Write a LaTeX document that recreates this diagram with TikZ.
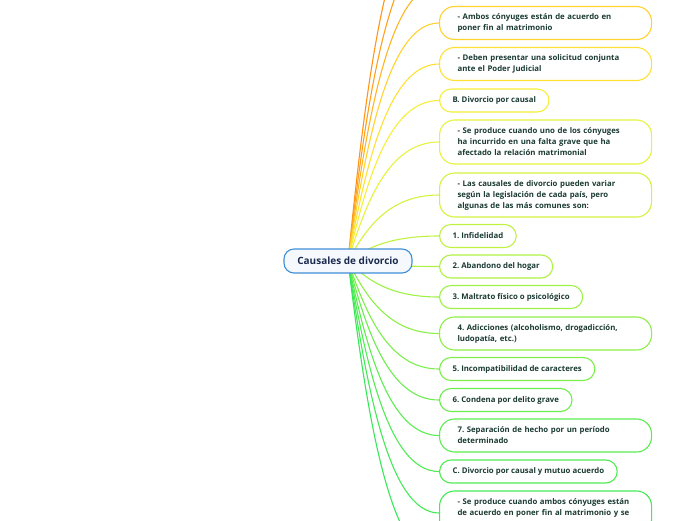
\documentclass[tikz,border=0pt]{standalone}
\usepackage{fontspec}
\setmainfont{Open Sans}
\usetikzlibrary{calc,backgrounds}
\definecolor{txt}{HTML}{1B3B33}
\definecolor{roottxt}{HTML}{1B2A4E}
\definecolor{rootdraw}{HTML}{3F8FD6}
\definecolor{rootfill}{HTML}{F5F9FD}
\definecolor{cT1}{HTML}{FF9418}
\definecolor{cT2}{HTML}{FFA01C}
\definecolor{cT3}{HTML}{FFB424}
\definecolor{cA1}{HTML}{FFD22E}
\definecolor{cA2}{HTML}{FFE034}
\definecolor{cB}{HTML}{F7EE3A}
\definecolor{cB1}{HTML}{E6F33C}
\definecolor{cB2}{HTML}{D3F43E}
\definecolor{c1}{HTML}{C0F240}
\definecolor{c2}{HTML}{AEF243}
\definecolor{c3}{HTML}{9EF145}
\definecolor{c4}{HTML}{8DF047}
\definecolor{c5}{HTML}{7CEF4A}
\definecolor{c6}{HTML}{6BEE4D}
\definecolor{c7}{HTML}{5CED50}
\definecolor{cC}{HTML}{4FEC52}
\definecolor{cC1}{HTML}{44EA55}
\definecolor{cBot}{HTML}{36E858}
\tikzset{
  leaf/.style={draw, fill=white, rounded corners=11.5, minimum height=23,
    inner xsep=13, inner ysep=0, anchor=west, text=txt, line width=1.1,
    font=\bfseries\frenchspacing\fontsize{7.8}{11}\selectfont},
  multi/.style={leaf, rounded corners=15, text width=176, inner xsep=18,
    minimum width=212, align=left},
  conn/.style={line width=1.1, to path={let \p1=(\tikztostart), \p2=(\tikztotarget) in
    .. controls (\x1+0.2*\x2-0.2*\x1, 0.5*\y1+0.5*\y2) and (\x1+0.45*\x2-0.45*\x1, \y2) .. (\tikztotarget)}}
}
\begin{document}
\begin{tikzpicture}[x=1pt,y=-1pt]
\useasboundingbox (0,0) rectangle (696,520);
\clip (0,0) rectangle (696,520);
\node[draw=rootdraw, fill=rootfill, line width=1.1, rounded corners=10,
  minimum width=128, minimum height=24, inner sep=0, text=roottxt,
  font=\bfseries\fontsize{10}{12}\selectfont] (root) at (348,261) {Causales de divorcio};
\coordinate (t1) at (439,-100);
\coordinate (t2) at (439,-55);
\coordinate (t3) at (439,-15);
\coordinate (bot) at (439,560);
\node[multi, draw=cA1, minimum height=33] (a1) at (439,23) {- Ambos cónyuges están de acuerdo en\\poner fin al matrimonio};
\node[multi, draw=cA2, minimum height=33] (a2) at (439,64) {- Deben presentar una solicitud conjunta\\ante el Poder Judicial};
\node[leaf, draw=cB] (b) at (439,100.5) {B. Divorcio por causal};
\node[multi, draw=cB1, minimum height=44] (b1) at (439,142) {- Se produce cuando uno de los cónyuges\\ha incurrido en una falta grave que ha\\afectado la relación matrimonial};
\node[multi, draw=cB2, minimum height=44] (b2) at (439,195) {- Las causales de divorcio pueden variar\\según la legislación de cada país, pero\\algunas de las más comunes son:};
\node[leaf, draw=c1] (n1) at (439,236) {1. Infidelidad};
\node[leaf, draw=c2] (n2) at (439,266.5) {2. Abandono del hogar};
\node[leaf, draw=c3] (n3) at (439,297) {3. Maltrato físico o psicológico};
\node[multi, draw=c4, minimum height=33] (n4) at (439,333.5) {4. Adicciones (alcoholismo, drogadicción,\\ludopatía, etc.)};
\node[leaf, draw=c5] (n5) at (439,369) {5. Incompatibilidad de caracteres};
\node[leaf, draw=c6] (n6) at (439,400) {6. Condena por delito grave};
\node[multi, draw=c7, minimum height=33] (n7) at (439,435.5) {7. Separación de hecho por un período\\determinado};
\node[leaf, draw=cC] (c) at (439,471.5) {C. Divorcio por causal y mutuo acuerdo};
\node[multi, draw=cC1, minimum height=44] (c1) at (439,513) {- Se produce cuando ambos cónyuges están\\de acuerdo en poner fin al matrimonio y se\\\mbox{}};
\begin{pgfonlayer}{background}
\clip (0,0) rectangle (696,520);
\draw[conn, cT1] (root.center) to (t1);
\draw[conn, cT2] (root.center) to (t2);
\draw[conn, cT3] (root.center) to (t3);
\draw[conn, cA1] (root.center) to (a1.west);
\draw[conn, cA2] (root.center) to (a2.west);
\draw[conn, cB] (root.center) to (b.west);
\draw[conn, cB1] (root.center) to (b1.west);
\draw[conn, cB2] (root.center) to (b2.west);
\draw[conn, c1] (root.center) to (n1.west);
\draw[conn, c2] (root.center) to (n2.west);
\draw[conn, c3] (root.center) to (n3.west);
\draw[conn, c4] (root.center) to (n4.west);
\draw[conn, c5] (root.center) to (n5.west);
\draw[conn, c6] (root.center) to (n6.west);
\draw[conn, c7] (root.center) to (n7.west);
\draw[conn, cC] (root.center) to (c.west);
\draw[conn, cC1] (root.center) to (c1.west);
\draw[conn, cBot] (root.center) to (bot);
\end{pgfonlayer}
\end{tikzpicture}
\end{document}
